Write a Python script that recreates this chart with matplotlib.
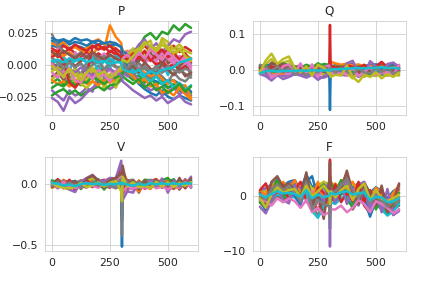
import numpy as np
import matplotlib
matplotlib.use('Agg')
import matplotlib.pyplot as plt
import seaborn as sns

sns.set_style('whitegrid')

x = [0, 25, 50, 75, 100, 125, 150, 175, 200, 225, 250, 275, 299, 302, 305,
     325, 350, 375, 400, 425, 450, 475, 500, 525, 550, 575, 600]

# P, values in 1e-3
P = [
    [15,14,16,13,15,14,12,15,14,13,15,12, 10,9,7, 4,-1,-4,-8,-11,-13,-15,-18,-16,-20,-22,-24],
    [17,15,18,12,14,11,13,18,20,16,18,12, 10,8,9, 11,6,9,5,8,4,7,2,5,0,3,-1],
    [-14,-11,-16,-9,-13,-16,-10,-7,-14,-11,-8,-13, -10,-7,-5, -8,-12,-8,-14,-10,-16,-12,-18,-15,-20,-17,-22],
    [11,6,9,13,9,6,10,5,9,6,11,8, 7,5,8, 1,6,11,15,10,13,8,12,15,10,14,11],
    [-20,-24,-28,-20,-24,-22,-18,-21,-8,-16,-19,-16, -12,-8,-6, -9,-6,-12,-16,-20,-18,-24,-21,-18,-23,-20,-26],
    [-9,-6,-12,-7,-4,-8,-2,-7,-1,-5,-2,-12, -5,-3,0, 3,-5,8,4,9,5,11,1,4,-1,2,-8],
    [7,13,6,2,10,4,8,1,5,9,3,7, 4,6,4, 10,12,6,11,7,2,-3,8,3,-5,1,4],
    [-3,1,-6,5,-3,-7,2,-5,-1,-10,5,-1, -4,-2,1, -7,-10,-2,-9,-12,-5,-9,-14,-6,-11,-13,-8],
    [-11,-8,4,-16,-2,-15,-18,-13,-3,-19,-7,-18, -9,-4,-1, 7,13,9,16,19,6,21,18,12,16,11,9],
    [0,-3,6,-5,7,1,-4,6,-6,4,-2,7, 5,2,-1, -3,2,-6,-2,-7,-3,3,-8,1,-5,-2,1],
    [19,17,20,16,18,17,15,18,16,17,15,16, 14,13,11, 8,4,1,-3,-6,-9,-11,-13,-12,-15,-17,-21],
    [8,11,7,10,6,9,12,8,14,12,31,22, 17,12,8, 5,0,-3,-6,-9,-7,-11,-15,-12,-19,-16,-26],
    [-24,-21,-19,-23,-20,-24,-21,-19,-17,-20,-16,-15, -11,-8,-5, 2,6,14,22,25,20,26,24,31,27,32,29],
    [13,10,15,12,16,13,11,15,12,14,10,13, 9,7,5, 8,3,6,2,5,0,3,-2,1,-4,-1,-6],
    [-26,-29,-36,-25,-30,-27,-22,-18,-15,-12,-9,-11, -6,-4,-2, 4,9,16,20,12,17,10,15,20,18,24,26],
    [2,-3,1,4,-1,3,6,2,7,3,8,5, 2,4,1, 5,-2,3,9,4,7,2,6,9,3,8,5],
    [-6,-10,-5,-13,-8,-11,-6,-3,-10,-7,-4,-9, -3,-1,3, -2,3,-4,1,6,3,9,5,1,7,4,-3],
    [24,15,11,8,6,10,5,9,3,7,2,6, 1,3,-1, 4,-2,1,-3,-5,-1,-6,-3,-8,-4,-7,-10],
    [-5,-2,-10,-4,-14,-7,-12,-4,-9,-17,-10,-14, -6,-2,1, 5,10,13,7,14,10,16,12,7,12,8,5],
    [3,2,4,1,3,5,2,4,1,3,5,2, 4,2,0, -2,-4,-7,-10,-13,-9,-15,-12,-18,-14,-20,-16],
    [21,19,20,18,21,19,20,18,19,17,18,17, 14,10,6, -2,-9,-15,-19,-22,-24,-20,-25,-27,-24,-26,-28],
    [-12,-15,-13,-17,-14,-11,-15,-13,-16,-12,-14,-10, -7,-4,-2, -5,-9,-14,-11,-17,-15,-22,-20,-24,-18,-23,-27],
    [-18,-15,-17,-12,-16,-13,-14,-9,-12,-15,-11,-10, -8,-6,-9, -12,-15,-11,-18,-14,-20,-17,-22,-19,-15,-21,-17],
    [6,9,3,-14,-18,-12,-8,14,16,12,15,10, 6,2,7, 4,9,5,11,3,8,12,6,10,4,9,2],
    [-1,-4,-8,-3,-6,-2,-5,-9,-4,-7,-3,-6, -8,-10,-13, -16,-20,-23,-26,-24,-28,-25,-30,-27,-24,-29,-31],
    [10,7,11,8,5,9,6,10,7,4,8,5, 3,1,-2, -4,-1,-6,2,-3,-7,1,-4,-8,-2,-9,-6],
    [1,-5,-9,-2,-12,-14,-7,-11,-4,-8,-13,-5, -1,2,5, 8,3,10,5,12,8,4,10,6,2,7,-1],
    [5,3,-3,2,-2,1,-4,0,3,-3,1,-2, -2,1,2, -3,2,-4,-1,-5,-2,-6,-1,-4,-6,-3,-5],
    [-1,-5,-9,-3,-8,-12,-6,-2,-8,-5,-10,-7, -2,2,4, 2,7,12,18,15,12,19,14,9,13,7,3],
    [3,4,2,5,3,5,2,4,2,3,1,2, 2,-1,-3, -5,-6,-4,-8,-5,-7,-4,-3,-2,2,3,5],
]

# Q, values in 1e-3
Q = [
    [10,12,16,14,18,10,-2,8,12,-4,12,14, 8,10,5, 14,8,14,16,5,10,14,15,12,10,14,12],
    [-6,-10,-14,-8,-12,-10,-8,-12,-6,-12,-8,-14, -12,-10,-10, -8,-10,-12,-14,-10,-12,-8,-12,-10,-14,-10,-12],
    [2,4,-3,6,8,4,10,3,14,8,3,16, 14,4,8, 4,6,5,-3,8,5,2,-2,8,3,-3,8],
    [-2,-5,6,-4,-3,-6,3,-8,-10,-14,-3,-10, 4,-6,-3, 10,-2,-7,3,-4,12,-9,3,-3,10,-4,-2],
    [12,-12,-22,-8,-18,-14,-9,-11,-15,-6,-18,-22, -16,-6,-2, -9,-14,-16,-10,-20,-12,-18,-14,-12,-16,-8,-15],
    [6,10,-1,12,4,-3,6,13,2,12,-5,8, 2,6,12, 9,13,2,10,-2,9,6,3,14,-2,10,-5],
    [-7,3,-16,2,-10,-12,-4,-3,5,-9,7,-2, -8,-12,10, -6,2,-16,-3,12,-14,-2,-11,0,-12,3,-8],
    [4,-8,12,-10,6,10,2,-9,9,3,-12,4, 10,-4,-8, 11,-7,9,-7,-10,2,10,-6,6,13,-9,7],
    [-12,16,30,8,20,25,-4,6,-12,10,-9,-12, -6,-14,-10, -2,-12,-10,-24,-8,-20,-8,-18,-5,-16,-14,-16],
    [0,-2,-10,-3,-7,1,-9,0,-2,2,-11,1, -3,2,-5, 3,0,4,-1,1,-4,2,-2,3,1,-1,2],
    [8,5,-9,6,-5,7,-6,5,-7,6,-4,-5, -10,-112,-6, 5,-6,8,5,-4,6,-5,7,4,-5,6,3],
    [-4,6,-7,-14,-9,5,-6,-8,4,-6,-7,-4, 4,28,22, 18,14,17,12,15,8,11,6,9,5,7,4],
    [3,12,-4,-7,18,12,5,-3,8,6,18,10, 6,14,12, 6,9,-4,-8,10,-12,-16,9,-14,5,-8,3],
    [5,-3,9,5,11,8,-5,7,-4,6,-3,5, 8,125,10, 7,5,12,8,6,14,3,10,22,7,5,-3],
    [-12,-18,-30,-15,-26,-20,-12,-16,-22,-14,-28,-18, -10,-8,-6, -12,-9,18,25,-7,-16,24,10,-9,16,20,8],
    [10,-6,20,12,16,7,-7,10,-5,8,5,-6, 6,-4,5, -5,7,-5,6,-8,7,-6,8,-7,5,-6,4],
    [-10,8,-22,-12,10,15,-10,18,-14,15,-20,8, 12,-6,-14, -4,-12,-10,5,-18,-6,8,-15,-10,-6,-15,14],
    [14,8,-5,10,-8,5,-14,-4,-15,-6,-8,10, -5,3,6, -8,4,-5,-14,5,-8,-10,5,-7,8,-12,-5],
    [-8,26,45,16,30,37,5,-6,9,-16,14,6, -12,-6,-20, -14,-16,12,-20,-34,-14,-20,-8,-24,-12,-20,-8],
    [-10,-4,-3,-5,-3,-4,-3,-2,-3,-1,-2,-2, -1,-3,0, 2,2,3,4,5,4,5,6,7,5,6,3],
]

# V, values in 1e-3
V = [
    [20,30,-30,18,25,-20,35,40,20,-25,30,35, 50,-90,40, -30,-40,25,-30,20,-25,-15,25,35,-10,30,-30],
    [-30,-15,25,-35,-10,30,-20,50,-25,30,20,-15, 70,-120,110, 25,-35,30,-20,-40,30,20,-50,-20,30,-25,50],
    [15,25,20,-25,20,-40,25,30,-10,-35,40,25, -50,-200,-20, 25,20,-20,35,30,-15,35,-30,40,-30,25,20],
    [-10,20,-25,30,-40,15,-15,60,35,-15,-30,30, 100,-30,-40, -45,25,-55,-10,25,40,-25,30,-20,35,-35,35],
    [25,-30,-10,-20,15,-30,40,-5,25,20,35,-25, -20,-260,90, 15,-25,-30,20,-25,-10,30,-35,30,-15,40,-15],
    [-20,5,30,15,-55,25,20,55,-20,25,-25,40, 40,-70,120, -50,10,-70,30,10,25,-30,40,15,-45,20,-20],
    [12,-18,-25,30,-35,-15,-30,35,30,-20,30,20, 130,-50,-100, -30,-45,20,-40,-20,-15,40,-40,-30,30,-20,40],
    [-5,35,15,-30,10,30,-10,-20,15,-30,-15,-35, -10,-300,30, 30,35,-15,15,35,20,-10,20,-15,20,15,-10],
    [18,-10,-20,-40,-25,10,25,45,-15,30,-5,30, -40,-110,70, -15,-20,-35,-25,-15,-30,25,-25,10,-25,30,25],
    [-12,12,-5,10,-22,-12,15,25,10,-12,15,10, 20,-15,25, -10,5,-8,10,-6,12,-8,10,-5,8,-10,10],
    [10,-15,8,-10,12,5,-8,10,5,-12,8,15, -20,-510,15, -10,8,-15,10,-8,12,-10,8,-12,10,-8,15],
    [25,-20,35,-25,20,-30,15,25,-15,20,-10,30, -30,-60,20, -25,-15,-60,15,-30,25,-15,35,-35,-25,20,-20],
    [30,10,-15,25,-25,20,30,-10,40,-45,25,35, 60,-40,100, -20,15,-10,25,-20,10,30,50,-10,25,-15,30],
    [-20,40,-35,35,-45,15,30,-25,20,35,-15,40, 120,-20,-80, 30,-20,20,-35,15,-25,35,-20,25,-30,30,-25],
    [15,-35,25,-45,-65,20,50,75,30,25,50,45, 190,-80,-130, -60,-70,15,-30,30,-20,45,-70,25,-20,-10,60],
    [-25,30,-30,-40,25,-35,45,70,25,-30,35,50, 90,-50,150, -35,30,-45,25,-30,35,-25,20,-40,50,-30,45],
    [5,-25,15,-20,-30,-25,10,-15,-30,10,-20,15, 60,-30,-60, -20,-30,-25,-30,15,-35,-20,-45,-15,-30,20,-25],
    [-15,15,-20,15,-15,-20,-25,20,-15,15,-20,10, 40,-420,50, 20,-15,15,-20,10,-15,20,-10,15,-20,10,15],
    [10,-20,-30,-35,-20,10,-25,-10,15,-20,10,25, -60,-140,60, -20,15,-25,-15,-30,20,-20,15,-25,10,-15,15],
    [8,3,-12,-5,-18,0,8,-2,6,-8,2,-2, 8,-3,10, -6,-12,2,-8,8,-3,6,-2,7,-3,6,4],
]

# F, values in 0.1
F = [
    [5,10,15,30,18,25,28,10,38,15,22,10, 18,12,15, 8,12,28,15,22,18,5,15,8,-5,8,15],
    [2,-5,10,22,12,20,15,-2,22,-5,15,2, 10,5,25, 15,22,38,-3,18,12,-15,5,2,-20,-5,10],
    [-10,-18,-12,5,-4,2,5,-6,8,-15,2,-5, -5,-3,-6, -8,2,8,-20,3,-10,-25,-12,-15,-28,-20,-12],
    [-3,-12,-2,10,3,8,10,-4,14,-10,-25,-8, 5,20,3, -5,12,22,-15,10,-18,-32,-5,-20,-25,-22,-8],
    [8,14,20,28,15,22,25,8,30,5,12,22, 15,-30,18, 10,15,35,8,20,25,2,12,0,-8,4,12],
    [-12,-24,-8,0,-6,-4,2,-8,5,-20,-12,-25, -8,35,-3, -12,5,10,-25,-8,-15,-30,-15,-22,-35,-25,-18],
    [4,-2,12,16,8,14,18,2,15,8,-15,10, 2,-15,12, 18,8,22,12,5,8,-20,2,-10,-15,-8,5],
    [-6,-16,-3,6,0,4,8,-5,12,-18,-35,-14, -3,10,-8, 4,15,12,-10,8,2,-18,-6,-18,-30,-18,-10],
    [6,8,18,25,12,18,22,4,28,12,18,25, 20,-5,22, 12,25,30,20,15,20,-12,10,-2,-12,2,16],
    [-8,-14,-6,2,-2,-2,-3,-12,6,-28,-40,-20, -12,-10,-12, -15,-5,2,-18,-5,-6,-28,-15,-25,-36,-28,-15],
    [-5,-28,-5,12,-3,15,0,-18,25,35,-5,-10, 12,-10,18, -10,5,20,-12,14,-5,-38,-8,-25,-10,-35,-25],
    [8,2,22,5,25,8,28,2,20,-5,25,-8, -15,20,10, 22,8,15,25,5,18,-5,14,5,-15,5,18],
    [-12,-20,5,30,-5,10,20,-5,32,-12,10,20, -8,-60,25, 5,28,-8,-20,20,-12,8,-25,-5,-30,-15,5],
    [10,22,-5,8,20,-8,10,25,-10,-22,15,5, -10,65,-5, 20,-12,5,-10,25,-12,10,-15,12,-20,-10,20],
    [-20,-32,-10,15,-8,-14,20,-12,18,-20,8,-10, 25,-92,15, -12,22,-15,12,-18,15,-25,8,-30,12,-35,-28],
    [5,-15,25,35,15,22,8,-5,42,-18,5,-42, 28,60,-10, 10,12,45,5,-15,22,5,-18,18,-30,-12,22],
    [-8,-10,-18,-5,-12,-5,-10,-22,-8,-30,-22,-35, -30,-20,-25, -25,-18,-30,-22,-8,-15,-30,-10,-15,-22,-32,-25],
    [3,-8,12,20,10,18,5,-10,25,-25,-8,-15, -20,-40,5, 8,18,30,10,-5,12,-12,-3,-8,-20,-12,-3],
    [-5,-22,2,15,5,10,12,-3,18,-2,8,18, 5,-15,8, -3,10,18,-8,12,22,-8,10,-5,-10,-5,2],
    [2,-3,3,8,4,5,3,-2,10,-5,2,-3, 0,3,5, 2,6,8,2,4,6,-8,-2,-3,-12,-10,-5],
]

titles = ['P', 'Q', 'V', 'F']
scales = [1e-3, 1e-3, 1e-3, 0.1]
series = [P, Q, V, F]
ylims = [(-0.039, 0.0344), (-0.125, 0.136), (-0.545, 0.217), (-10, 6.9)]
yticks = [[-0.025, 0, 0.025], [-0.1, 0, 0.1], [-0.5, 0], [-10, 0]]
ylabels = [['\u22120.025', '0.000', '0.025'], ['\u22120.1', '0.0', '0.1'],
           ['\u22120.5', '0.0'], ['\u221210', '0']]

fig, axes = plt.subplots(2, 2, figsize=(6, 4), dpi=72)
fig.subplots_adjust(left=45/432, right=406/432, top=1-21/288, bottom=1-251/288,
                    wspace=55/153, hspace=43/94)

for i, ax in enumerate(axes.flat):
    for s in series[i]:
        ax.plot(x, np.array(s)*scales[i], linewidth=2.5)
    ax.set_title(titles[i], fontsize=12, color='.15')
    ax.set_xlim(-30, 630)
    ax.set_ylim(ylims[i])
    ax.set_xticks([0, 250, 500])
    ax.set_yticks(yticks[i])
    ax.set_yticklabels(ylabels[i])
    ax.tick_params(labelsize=11)

plt.savefig('out.png', dpi=72)
